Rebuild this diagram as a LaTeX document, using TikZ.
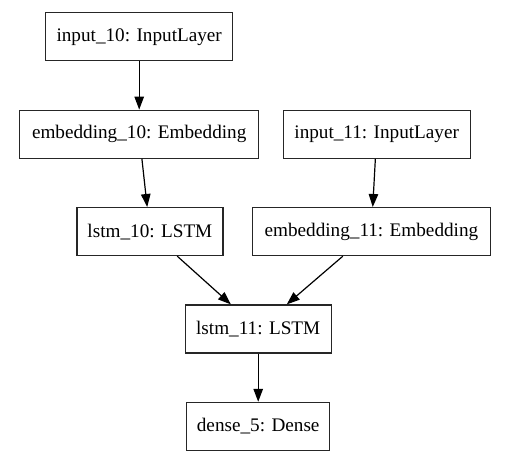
\documentclass[tikz,border=0pt]{standalone}
\usepackage{fontspec}
\setmainfont{Liberation Serif}
\usepackage{tikz}
\usetikzlibrary{arrows.meta, positioning}
\tikzstyle{layer} = [rectangle, minimum height=48pt, text centered, draw=black!85, line width=1.2pt, font=\fontsize{19.2}{22}\selectfont, inner sep=0pt]
\tikzstyle{arrow} = [line width=1.2pt, -{Triangle[length=13pt, width=9.5pt]}]

\begin{document}
\begin{tikzpicture}[x=1pt, y=1pt, node distance=97.4pt]
\useasboundingbox (0,0) rectangle (532,-470);

% Left branch
\node (input_10) [layer, minimum width=187pt] at (139.2,-36.8) {input\_10: InputLayer};
\node (embedding_10) [layer, minimum width=238.7pt, below of=input_10] {embedding\_10: Embedding};
\node (lstm_10) [layer, minimum width=146pt, below of=embedding_10, xshift=10.7pt] {lstm\_10: LSTM};

% Right branch
\node (input_11) [layer, minimum width=187pt, right of=embedding_10, xshift=140.1pt] {input\_11: InputLayer};
\node (embedding_11) [layer, minimum width=237.6pt, below of=input_11, xshift=-5.3pt] {embedding\_11: Embedding};

% Merge
\node (lstm_11) [layer, minimum width=146pt, below of=lstm_10, xshift=108.3pt] {lstm\_11: LSTM};
\node (dense_5) [layer, minimum width=143pt, below of=lstm_11] {dense\_5: Dense};

% Arrows
\draw [arrow] (input_10) -- (embedding_10);
\draw [arrow] (embedding_10) -- (lstm_10);
\draw [arrow] (input_11) -- (embedding_11);
\draw [arrow] (lstm_10) -- (lstm_11);
\draw [arrow] (embedding_11) -- (lstm_11);
\draw [arrow] (lstm_11) -- (dense_5);

\end{tikzpicture}
\end{document}
